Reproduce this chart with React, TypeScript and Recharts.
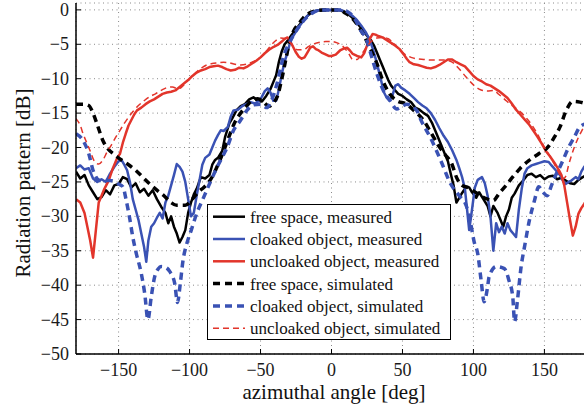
import React from 'react';
import { LineChart, Line, XAxis, YAxis, CartesianGrid, Legend } from 'recharts';

// ---- data (angle in deg, radiation pattern in dB) ----
const freeSpaceMeasured: [number, number][] = [
  [-180,-23.5],[-177,-24.5],[-174,-24],[-171,-25.5],[-168,-26.5],[-165,-27.5],[-162,-27.2],[-159,-26.2],[-156,-26.8],[-153,-25.5],[-150,-25.3],[-147,-24.3],[-144,-24.6],[-141,-25.8],[-138,-25.2],[-135,-26.5],[-132,-26],[-129,-27],[-126,-26.2],[-123,-27.5],[-120,-28.6],[-117,-29.5],[-115,-31],[-113,-30],[-111,-31.5],[-109,-32.5],[-107,-33.8],[-105,-33],[-103,-32],[-101,-29.5],[-99,-28],[-97,-26.8],[-95,-26],[-92,-24.3],[-89,-24.5],[-86,-24],[-84,-22.5],[-82,-21.8],[-80,-21.5],[-77,-20.5],[-75,-18.5],[-72,-16.5],[-70,-15.8],[-67,-14.6],[-64,-14],[-61,-13.7],[-58,-13],[-55,-12.7],[-52,-13.2],[-49,-13.3],[-46,-12.5],[-43,-11.5],[-41,-10.5],[-39,-9.5],[-37,-7.5],[-35,-6],[-33,-5],[-31,-4.5],[-28,-3.6],[-25,-2.8],[-22,-2],[-19,-1.3],[-16,-0.7],[-13,-0.3],[-10,-0.1],[-6,0],[0,0],[5,0],[8,-0.2],[11,-0.5],[14,-1],[17,-1.6],[20,-2.4],[23,-3.2],[26,-4],[28,-4.5],[30,-5.2],[32,-6.2],[34,-7.2],[36,-8.2],[38,-9.2],[40,-10.2],[42,-11],[44,-11.5],[47,-12.2],[50,-12.5],[53,-13],[56,-13.4],[59,-14.2],[62,-14.5],[65,-15],[68,-15.4],[71,-16.5],[74,-18],[77,-19.5],[80,-21],[82,-22],[84,-23.8],[86,-25.5],[88,-28],[90,-27.3],[92,-26.6],[95,-25.7],[97,-25.8],[99,-26.5],[102,-27.3],[104,-26.5],[107,-27.5],[110,-28.5],[112,-30],[114,-28.5],[117,-29.5],[119,-30.5],[121,-31.5],[123,-30],[125,-29],[127,-27.3],[129,-26.7],[132,-25.5],[135,-24.8],[138,-24],[141,-23.8],[144,-24.3],[147,-24],[150,-24.6],[153,-24.2],[156,-24.1],[159,-24.6],[162,-24.4],[165,-24.8],[168,-25.2],[171,-25.3],[174,-24.7],[177,-24.3],[180,-24],
];

const cloakedMeasured: [number, number][] = [
  [-180,-23],[-177,-22.6],[-174,-23.2],[-171,-23],[-168,-24.5],[-165,-25],[-162,-24.6],[-159,-25],[-156,-23.8],[-153,-22.8],[-150,-22],[-148,-21.8],[-146,-22.5],[-144,-23.3],[-142,-25],[-140,-27.5],[-138,-29],[-136,-30.5],[-134,-32.5],[-132,-34.5],[-130.5,-36.6],[-129,-33.5],[-127,-31.5],[-125,-31],[-123,-30.2],[-121,-29.5],[-119,-30.3],[-117,-28],[-115,-27],[-113,-25.5],[-111,-24],[-109,-22.4],[-107,-22.8],[-105,-23.5],[-103,-25],[-101,-27.5],[-99,-30],[-97,-29.5],[-95,-27],[-93,-24.8],[-91,-22.5],[-89,-21.5],[-86,-21],[-84,-20],[-82,-19],[-80,-18.2],[-78,-17.5],[-76,-17.6],[-73,-17],[-71,-15.5],[-69,-14.6],[-66,-14.5],[-63,-14],[-60,-13.7],[-57,-13.4],[-54,-13.6],[-51,-13.2],[-49,-12.6],[-47,-11.8],[-45,-11.4],[-43,-12],[-41,-13.2],[-39,-13.2],[-37,-11.5],[-35,-9.3],[-33,-7.5],[-31,-6.2],[-29,-4.6],[-27,-3.8],[-24,-2.8],[-21,-1.9],[-18,-1.1],[-15,-0.5],[-12,-0.2],[-8,0],[0,0],[6,0],[9,-0.2],[12,-0.5],[15,-0.9],[18,-1.5],[21,-2.3],[24,-3.2],[27,-4.4],[29,-5.6],[31,-7],[33,-8.6],[35,-10.3],[37,-12],[39,-12.8],[41,-13.2],[43,-12.4],[45,-11],[47,-10.8],[49,-11.3],[52,-11.7],[55,-12.2],[58,-12.8],[61,-13.4],[64,-13.9],[67,-14.3],[70,-15],[73,-16],[76,-17.2],[79,-18.3],[82,-19.2],[85,-20.4],[88,-21.8],[90,-23],[92,-24.3],[94,-26],[95.5,-29],[97,-32],[99,-29],[101,-25.8],[103,-24.7],[106,-24.3],[108,-25.2],[110,-27],[112,-30],[114,-35],[116,-31],[118,-32.3],[120,-31.5],[122,-32.5],[124,-31],[126,-32],[128,-32.5],[130,-33],[132,-29],[134,-26],[136,-23.8],[138,-23],[141,-22.6],[144,-22.4],[147,-22.2],[150,-22],[153,-22.1],[155,-22.6],[158,-23.3],[161,-24],[163,-24.8],[165,-25.3],[167,-25],[169,-24.8],[172,-24.3],[174,-24.6],[176,-23.5],[178,-22.8],[180,-22.5],
];

const uncloakedMeasured: [number, number][] = [
  [-180,-27.5],[-177,-28],[-174,-29.5],[-172,-31.5],[-170,-33.5],[-168,-36],[-166,-32],[-164,-28],[-162,-27],[-160,-26],[-157,-24.8],[-154,-23],[-151,-21.5],[-149,-20.9],[-147,-19.3],[-145,-18],[-143,-16.8],[-141,-16],[-139,-15.2],[-137,-14.6],[-134,-14.2],[-131,-13.7],[-128,-13.3],[-125,-13],[-122,-12.6],[-119,-12.2],[-116,-12],[-113,-11.9],[-110,-11.7],[-107,-11.2],[-104,-10.7],[-101,-10.2],[-98,-9.6],[-95,-9.1],[-92,-8.8],[-89,-8.6],[-86,-8.3],[-83,-8.2],[-80,-8.1],[-77,-8.3],[-74,-8.6],[-71,-8.8],[-68,-8.7],[-65,-8.4],[-62,-8.5],[-59,-8.2],[-56,-7.8],[-53,-7.4],[-50,-6.9],[-47,-6.3],[-44,-5.8],[-41,-5.4],[-38,-5.1],[-35,-4.6],[-33,-4.2],[-31,-4],[-29,-4.6],[-27,-5.4],[-25,-6.2],[-23,-6.8],[-21,-7.1],[-19,-6.9],[-17,-6.2],[-15,-5.5],[-13,-5.3],[-11,-5.7],[-9,-5.9],[-7,-6.2],[-5,-6.4],[-2,-6.7],[0,-6.7],[3,-6.5],[6,-5.9],[9,-5.6],[11,-5.5],[13,-5.9],[15,-6.4],[18,-6.7],[21,-6.9],[23,-6.3],[25,-5.2],[27,-4.2],[29,-3.5],[31,-3.6],[33,-3.8],[36,-4],[39,-4.4],[42,-4.8],[45,-5.2],[48,-5.7],[51,-6.5],[53,-7.1],[55,-7.6],[58,-7.9],[61,-8],[64,-8.2],[67,-8.4],[70,-8.5],[73,-8.3],[76,-8],[79,-7.6],[82,-7.2],[85,-7.2],[88,-7.6],[91,-7.9],[94,-8.2],[97,-8.9],[100,-9.6],[103,-10.1],[106,-10.4],[109,-10.8],[112,-11],[115,-11.4],[118,-11.8],[121,-12.3],[124,-12.8],[127,-13.6],[130,-14.5],[133,-15.2],[136,-15.9],[139,-16.6],[142,-17.5],[145,-18.4],[148,-19.4],[151,-20.5],[154,-21.3],[157,-22.2],[160,-23.2],[162,-24],[164,-25.5],[166,-28],[168,-30.5],[170,-32.8],[172,-31.5],[174,-29.6],[176,-28.8],[178,-28.2],[180,-27.5],
];

const freeSpaceSimulated: [number, number][] = [
  [-180,-13.7],[-175,-13.7],[-171,-13.9],[-168,-15],[-165,-16.7],[-161,-19],[-157,-20.3],[-153,-21],[-148,-21.8],[-143,-22.5],[-138,-23.3],[-133,-24.3],[-128,-25.3],[-123,-26.2],[-118,-27],[-113,-28],[-109,-28.4],[-103,-28.4],[-98,-27.5],[-94,-26.5],[-90,-25.8],[-85,-24.6],[-80,-22.5],[-76,-20.5],[-72,-18.3],[-68,-16.3],[-64,-15],[-60,-14],[-56,-13.2],[-52,-12.9],[-48,-13.4],[-44,-14],[-41,-13.5],[-38,-12.5],[-35,-10],[-32,-7],[-30,-5],[-27,-3.2],[-23,-2],[-20,-1.2],[-15,-0.4],[-10,-0.1],[-5,0],[0,0],[5,0],[10,-0.5],[15,-1.3],[18,-2.1],[22,-3.4],[27,-5.5],[32,-7.8],[36,-10.2],[41,-12.2],[46,-13.2],[53,-13.7],[58,-14.6],[65,-16.1],[70,-17.8],[75,-19.6],[80,-21],[85,-22.5],[88,-24.3],[92,-25.5],[96,-25.8],[100,-26.3],[105,-27],[110,-27.5],[114,-27.7],[118,-26.7],[123,-25.5],[128,-24.2],[133,-23],[139,-21.9],[146,-20.9],[153,-19.8],[157,-18.5],[161,-17],[165,-14.8],[170,-13.3],[175,-13.4],[180,-13.7],
];

const cloakedSimulated: [number, number][] = [
  [-180,-18],[-175,-19],[-171,-20.9],[-168,-23.3],[-163,-24.8],[-156,-24.8],[-150,-25.3],[-147,-25.7],[-144.6,-27.7],[-142,-30.5],[-140,-33],[-137.5,-35.4],[-134,-38.3],[-131.6,-41.2],[-129.3,-45],[-127,-41.7],[-124.6,-38.8],[-122,-37.6],[-120,-37.3],[-117,-37.4],[-114,-38],[-110.5,-39.7],[-108.5,-42.5],[-106.5,-39.7],[-104.6,-36.4],[-102,-34],[-98.8,-32],[-95,-29.6],[-90.6,-27.5],[-86,-25.3],[-80.7,-22.9],[-76,-21],[-73.6,-20],[-69,-17.5],[-64.3,-16.1],[-59.6,-14.6],[-55,-13.8],[-50,-13.7],[-45.5,-14.2],[-43,-13.5],[-38.5,-10.8],[-34,-6.9],[-29,-4.5],[-23.4,-2.6],[-18,-1.2],[-13,-0.4],[-7,0],[0,0],[7,0],[13,-0.5],[17,-1.5],[20,-2.8],[25,-4.5],[27,-5.9],[32,-9.3],[36.5,-11.7],[41.3,-13.2],[46,-14.4],[50,-14],[53,-13.7],[60,-14.6],[63,-16],[70,-18.7],[77,-21.9],[84,-25.3],[90,-27],[95,-28.5],[98,-31],[100.5,-33.7],[103,-35.4],[105.4,-39.3],[107.5,-42.4],[110,-40.2],[111,-38.8],[116,-37.3],[121.8,-37.6],[125,-39.3],[127.7,-41.7],[129,-45.3],[131,-42.2],[133.6,-37.3],[136,-34.4],[139.4,-30.6],[143,-27.7],[146,-25.7],[149,-26.5],[152,-27],[155,-25.5],[158,-24],[161,-22.8],[164,-21.4],[167,-20],[171,-18.5],[175,-17],[180,-16.5],
];

const uncloakedSimulated: [number, number][] = [
  [-180,-15.8],[-177,-16.8],[-175,-18],[-172,-19.5],[-170,-20.5],[-167,-22],[-164,-22.4],[-161,-21.8],[-158,-20.6],[-155,-19.6],[-152,-18.5],[-149,-17.5],[-146,-16.5],[-143,-15.6],[-140,-14.8],[-136,-13.9],[-132,-13.2],[-128,-12.6],[-124,-12.2],[-120,-11.7],[-116,-11.3],[-112,-11.2],[-108,-11.5],[-104,-10.9],[-100,-10],[-96,-9.2],[-92,-8.5],[-88,-8],[-84,-7.8],[-80,-7.7],[-76,-7.6],[-72,-7.7],[-68,-7.9],[-64,-8],[-60,-7.9],[-56,-7.6],[-52,-7.2],[-48,-6.5],[-44,-5.5],[-40,-4.6],[-36,-4.1],[-32,-4.2],[-28,-5],[-24,-5.8],[-20,-5.8],[-16,-5.3],[-12,-4.9],[-8,-4.7],[-4,-4.6],[0,-4.6],[4,-4.8],[8,-5.3],[12,-6.3],[15,-7.2],[18,-7.2],[21,-6.5],[24,-5.6],[28,-4.6],[32,-4.1],[36,-4],[40,-4.2],[44,-4.9],[48,-5.8],[52,-6.5],[56,-6.9],[60,-7.1],[65,-7.2],[70,-7.3],[75,-7.3],[80,-7.3],[85,-7.6],[90,-8.6],[95,-9.8],[100,-10.9],[105,-11.6],[110,-11.8],[114,-11.7],[118,-12.3],[122,-13],[126,-13.7],[130,-14.3],[134,-15],[138,-15.9],[142,-17],[145,-18],[148,-19.2],[151,-20.3],[154,-21.3],[157,-22.4],[160,-23.6],[163,-24.6],[165,-24.2],[167,-22.6],[169,-21.2],[171,-20],[174,-18.5],[177,-17.3],[180,-16],
];

const xTicks = [-150, -100, -50, 0, 50, 100, 150];
const yTicks = [-50, -45, -40, -35, -30, -25, -20, -15, -10, -5, 0];
const xDomain: [number, number] = [-180, 180];
const yDomain: [number, number] = [-50, 1];

const xLabel = 'azimuthal angle [deg]';
const yLabel = 'Radiation pattern [dB]';

const BLACK = '#000000';
const BLUE = '#3a52b4';
const RED = '#e2352b';
const FONT = 'Liberation Serif, Tinos, DejaVu Serif, serif';

const toRows = (pts: [number, number][]) => pts.map(([deg, db]) => ({ deg, db }));

type SeriesDef = {
  label: string;
  data: [number, number][];
  color: string;
  width: number;
  dash?: string;
  curve: 'linear' | 'monotone';
};

const series: SeriesDef[] = [
  { label: 'free space, measured', data: freeSpaceMeasured, color: BLACK, width: 2.5, curve: 'linear' },
  { label: 'cloaked object, measured', data: cloakedMeasured, color: BLUE, width: 2.5, curve: 'linear' },
  { label: 'uncloaked object, measured', data: uncloakedMeasured, color: RED, width: 2.5, curve: 'linear' },
  { label: 'free space, simulated', data: freeSpaceSimulated, color: BLACK, width: 3.5, dash: '7 5', curve: 'monotone' },
  { label: 'cloaked object, simulated', data: cloakedSimulated, color: BLUE, width: 3.5, dash: '7 5', curve: 'monotone' },
  { label: 'uncloaked object, simulated', data: uncloakedSimulated, color: RED, width: 1.5, dash: '6 4', curve: 'monotone' },
];

const fmt = (v: number) => String(v).replace('-', '\u2212');

const textStyle: React.CSSProperties = { fontFamily: FONT };

const BottomTick = (props: any) => {
  const { x, y, payload } = props;
  return (
    <g>
      <line x1={x} y1={y} x2={x} y2={y - 5} stroke="#000" strokeWidth={1} />
      <text x={x} y={y + 22} textAnchor="middle" fontSize={18} style={textStyle} fill="#1a1a1a">
        {fmt(payload.value)}
      </text>
    </g>
  );
};

const TopTick = (props: any) => {
  const { x, y } = props;
  return <line x1={x} y1={y} x2={x} y2={y + 5} stroke="#000" strokeWidth={1} />;
};

const LeftTick = (props: any) => {
  const { x, y, payload } = props;
  return (
    <g>
      <line x1={x} y1={y} x2={x + 5} y2={y} stroke="#000" strokeWidth={1} />
      <text x={x - 7} y={y + 6} textAnchor="end" fontSize={18} style={textStyle} fill="#1a1a1a">
        {fmt(payload.value)}
      </text>
    </g>
  );
};

const LegendBox = () => (
  <div
    style={{
      width: 244,
      height: 136,
      boxSizing: 'border-box',
      border: '1.2px solid #000',
      background: '#fff',
    }}
  >
    <svg width={242} height={134} style={{ display: 'block' }}>
      {series.map((s, i) => {
        const y = 11.7 + 22.3 * i;
        return (
          <g key={s.label}>
            <line x1={5} x2={37} y1={y} y2={y} stroke={s.color} strokeWidth={s.width} strokeDasharray={s.dash} />
            <text x={42} y={y + 6} fontSize={17} style={textStyle} fill="#111">
              {s.label}
            </text>
          </g>
        );
      })}
    </svg>
  </div>
);

export default function App() {
  return (
    <div
      style={{
        position: 'fixed',
        left: 0,
        top: 0,
        width: 584,
        height: 409,
        overflow: 'hidden',
        background: '#fff',
        fontFamily: FONT,
      }}
    >
      <LineChart width={600} height={409} margin={{ top: 3, right: 13, bottom: 5, left: 0 }}>
        <CartesianGrid stroke="#8a8a8a" strokeDasharray="1 3.5" strokeWidth={1} />
        <XAxis
          xAxisId={0}
          dataKey="deg"
          type="number"
          domain={xDomain}
          ticks={xTicks}
          interval={0}
          height={50}
          tickSize={0}
          tickMargin={0}
          tickLine={false}
          tick={<BottomTick />}
          axisLine={{ stroke: '#000', strokeWidth: 1.5 }}
          allowDataOverflow
        />
        <XAxis
          xAxisId="top"
          orientation="top"
          dataKey="deg"
          type="number"
          domain={xDomain}
          ticks={xTicks}
          interval={0}
          height={0}
          tickSize={0}
          tickMargin={0}
          tickLine={false}
          tick={<TopTick />}
          axisLine={{ stroke: '#000', strokeWidth: 1.5 }}
          allowDataOverflow
        />
        <YAxis
          type="number"
          domain={yDomain}
          ticks={yTicks}
          interval={0}
          width={76}
          tickSize={0}
          tickMargin={0}
          tickLine={false}
          tick={<LeftTick />}
          axisLine={{ stroke: '#000', strokeWidth: 1.5 }}
          allowDataOverflow
        />
        {series.map((s) => (
          <Line
            key={s.label}
            data={toRows(s.data)}
            dataKey="db"
            xAxisId={0}
            type={s.curve}
            stroke={s.color}
            strokeWidth={s.width}
            strokeDasharray={s.dash}
            dot={false}
            activeDot={false}
            isAnimationActive={false}
            strokeLinejoin="round"
          />
        ))}
        <Legend
          layout="vertical"
          align="center"
          verticalAlign="middle"
          wrapperStyle={{ left: 207, top: 204, width: 244, height: 136 }}
          content={() => <LegendBox />}
        />
        <text x={334} y={399} textAnchor="middle" fontSize={21} style={textStyle} fill="#111">
          {xLabel}
        </text>
        <text
          x={30}
          y={183}
          textAnchor="middle"
          fontSize={21}
          style={textStyle}
          fill="#111"
          transform="rotate(-90 30 183)"
        >
          {yLabel}
        </text>
      </LineChart>
    </div>
  );
}
